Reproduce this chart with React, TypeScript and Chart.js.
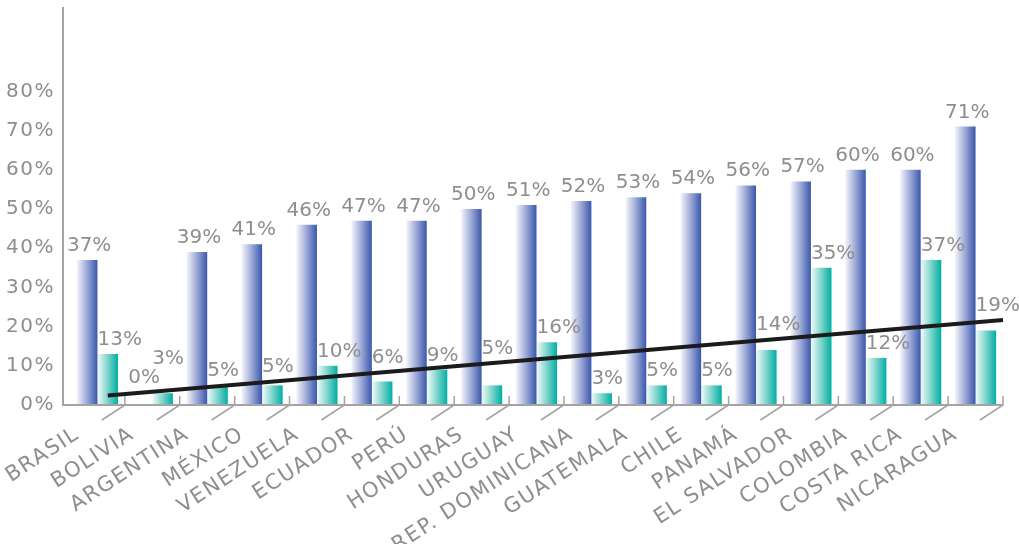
import React, { useEffect, useRef } from 'react';
import { Chart, registerables } from 'chart.js';

Chart.register(...registerables);

const categories = [
  'BRASIL', 'BOLIVIA', 'ARGENTINA', 'MÉXICO', 'VENEZUELA', 'ECUADOR', 'PERÚ',
  'HONDURAS', 'URUGUAY', 'REP. DOMINICANA', 'GUATEMALA', 'CHILE', 'PANAMÁ',
  'EL SALVADOR', 'COLOMBIA', 'COSTA RICA', 'NICARAGUA',
];
const blueValues = [37, 0, 39, 41, 46, 47, 47, 50, 51, 52, 53, 54, 56, 57, 60, 60, 71];
const tealValues = [13, 3, 5, 5, 10, 6, 9, 5, 16, 3, 5, 5, 14, 35, 12, 37, 19];
const yTickValues = [0, 10, 20, 30, 40, 50, 60, 70, 80];

const FONT = '"DejaVu Sans", sans-serif';
const GRAY = '#8e8e8e';
const AXIS = '#a3a3a3';
const CAT_PCT = 0.75;

function linearFit(vals: number[]) {
  const n = vals.length;
  const xs = vals.map((_, i) => i);
  const mx = xs.reduce((a, b) => a + b, 0) / n;
  const my = vals.reduce((a, b) => a + b, 0) / n;
  let sxy = 0, sxx = 0;
  for (let i = 0; i < n; i++) { sxy += (xs[i] - mx) * (vals[i] - my); sxx += (xs[i] - mx) ** 2; }
  const slope = sxy / sxx;
  return { slope, intercept: my - slope * mx };
}

function barGradient(ctx: any) {
  const chart = ctx.chart;
  const xs = chart.scales && chart.scales.x;
  const di = ctx.datasetIndex;
  const fallback = di === 0 ? '#5a73bd' : '#3cc0b5';
  if (!xs || !chart.chartArea || ctx.dataIndex === undefined) return fallback;
  const n = categories.length;
  const catW = xs.width / n;
  const groupW = catW * CAT_PCT;
  const barW = groupW / 2;
  const cx = xs.getPixelForValue(ctx.dataIndex);
  const left = cx - groupW / 2 + di * barW;
  const g = chart.ctx.createLinearGradient(left, 0, left + barW, 0);
  if (di === 0) {
    g.addColorStop(0, '#f4f5fb');
    g.addColorStop(0.45, '#a4b0da');
    g.addColorStop(1, '#3a57ac');
  } else {
    g.addColorStop(0, '#f2fbfa');
    g.addColorStop(0.45, '#8ad8d1');
    g.addColorStop(1, '#00aea3');
  }
  return g;
}

export default function App() {
  const ref = useRef<HTMLCanvasElement>(null);

  useEffect(() => {
    document.body.style.margin = '0';
    const canvas = ref.current!;
    const fit = linearFit(tealValues);

    const trendY = (chart: any, x: number) => {
      const meta = chart.getDatasetMeta(1);
      const first = meta.data[0] as any;
      const last = meta.data[meta.data.length - 1] as any;
      const y0 = chart.scales.y.getPixelForValue(fit.intercept);
      const y1 = chart.scales.y.getPixelForValue(fit.intercept + fit.slope * (tealValues.length - 1));
      return y0 + ((x - first.x) / (last.x - first.x)) * (y1 - y0);
    };

    const spacingPlugin = {
      id: 'spacing',
      beforeDraw(chart: any) {
        (chart.ctx as any).letterSpacing = '1.5px';
      },
    };

    const axesPlugin = {
      id: 'customAxes',
      afterDatasetsDraw(chart: any) {
        const c = chart.ctx;
        const { left, right, top, bottom } = chart.chartArea;
        const axisX = left - 7;
        c.save();
        c.strokeStyle = AXIS;
        c.lineWidth = 2;
        c.beginPath();
        c.moveTo(axisX, top);
        c.lineTo(axisX, bottom);
        c.lineTo(right, bottom);
        c.stroke();
        c.lineWidth = 1.5;
        const n = categories.length;
        const w = (right - left) / n;
        for (let k = 1; k <= n; k++) {
          const x = left + k * w;
          c.beginPath();
          c.moveTo(x, bottom - 9);
          c.lineTo(x, bottom);
          c.lineTo(x - 23, bottom + 15);
          c.stroke();
        }
        c.restore();
      },
    };

    const trendPlugin = {
      id: 'trend',
      afterDatasetsDraw(chart: any) {
        const meta = chart.getDatasetMeta(1);
        const first = meta.data[0] as any;
        const endX = chart.chartArea.right;
        const c = chart.ctx;
        c.save();
        c.strokeStyle = '#1b1b1b';
        c.lineWidth = 4;
        c.lineCap = 'butt';
        c.beginPath();
        c.moveTo(first.x, trendY(chart, first.x));
        c.lineTo(endX, trendY(chart, endX));
        c.stroke();
        c.restore();
      },
    };

    const labelPlugin = {
      id: 'barLabels',
      afterDatasetsDraw(chart: any) {
        const c = chart.ctx;
        c.save();
        (c as any).letterSpacing = '0px';
        c.font = `20px ${FONT}`;
        c.fillStyle = GRAY;
        c.textAlign = 'left';
        c.textBaseline = 'alphabetic';
        const h = 15;
        const placed: { x0: number; x1: number; top: number; bottom: number }[] = [];
        const m0 = chart.getDatasetMeta(0);
        const m1 = chart.getDatasetMeta(1);
        for (let i = 0; i < categories.length; i++) {
          [0, 1].forEach((di) => {
            const bar: any = (di === 0 ? m0 : m1).data[i];
            const text = `${(di === 0 ? blueValues : tealValues)[i]}%`;
            const w = c.measureText(text).width;
            const x0 = di === 0 ? bar.x + 2 - w / 2 : bar.x - bar.width / 2;
            const x1 = x0 + w;
            const cx = (x0 + x1) / 2;
            let bottom = bar.y - 9;
            const ly = trendY(chart, cx);
            if (ly > bottom - h - 3 && ly < bottom + 5) bottom = ly - 9;
            let moved = true;
            while (moved) {
              moved = false;
              for (const p of placed) {
                if (x0 < p.x1 && x1 > p.x0 && bottom - h < p.bottom && bottom > p.top) {
                  bottom = p.top - 4;
                  moved = true;
                }
              }
            }
            placed.push({ x0, x1, top: bottom - h, bottom });
            c.fillText(text, x0, bottom);
          });
        }
        c.restore();
      },
    };

    const chart = new Chart(canvas, {
      type: 'bar',
      data: {
        labels: categories,
        datasets: [
          {
            data: blueValues,
            backgroundColor: barGradient,
            borderWidth: 0,
            categoryPercentage: CAT_PCT,
            barPercentage: 1,
          },
          {
            data: tealValues,
            backgroundColor: barGradient,
            borderWidth: 0,
            categoryPercentage: CAT_PCT,
            barPercentage: 1,
          },
        ],
      },
      options: {
        responsive: false,
        animation: false,
        layout: { padding: { top: 7, right: 16, left: 0, bottom: 0 } },
        plugins: {
          legend: { display: false },
          tooltip: { enabled: false },
        },
        scales: {
          x: {
            grid: { display: false, drawTicks: false },
            border: { display: false },
            ticks: {
              autoSkip: false,
              maxRotation: 33,
              minRotation: 33,
              labelOffset: -20,
              padding: 17,
              color: GRAY,
              font: { family: FONT, size: 21 },
            },
            afterFit(scale: any) {
              scale.height = 139;
              scale.paddingLeft = 0;
              scale.paddingRight = 0;
            },
          },
          y: {
            min: 0,
            max: 101.5,
            grid: { display: false, drawTicks: false },
            border: { display: false },
            afterBuildTicks(scale: any) {
              scale.ticks = yTickValues.map((v) => ({ value: v }));
            },
            ticks: {
              padding: 15,
              color: GRAY,
              font: { family: FONT, size: 20 },
              callback: (v: any) => `${v}%`,
            },
            afterFit(scale: any) {
              scale.width = 70;
              scale.paddingTop = 0;
              scale.paddingBottom = 0;
            },
          },
        },
      },
      plugins: [spacingPlugin, axesPlugin, trendPlugin, labelPlugin],
    });

    return () => chart.destroy();
  }, []);

  return (
    <div style={{ width: 1019, height: 544, background: '#ffffff' }}>
      <canvas ref={ref} width={1019} height={544} style={{ display: 'block' }} />
    </div>
  );
}
